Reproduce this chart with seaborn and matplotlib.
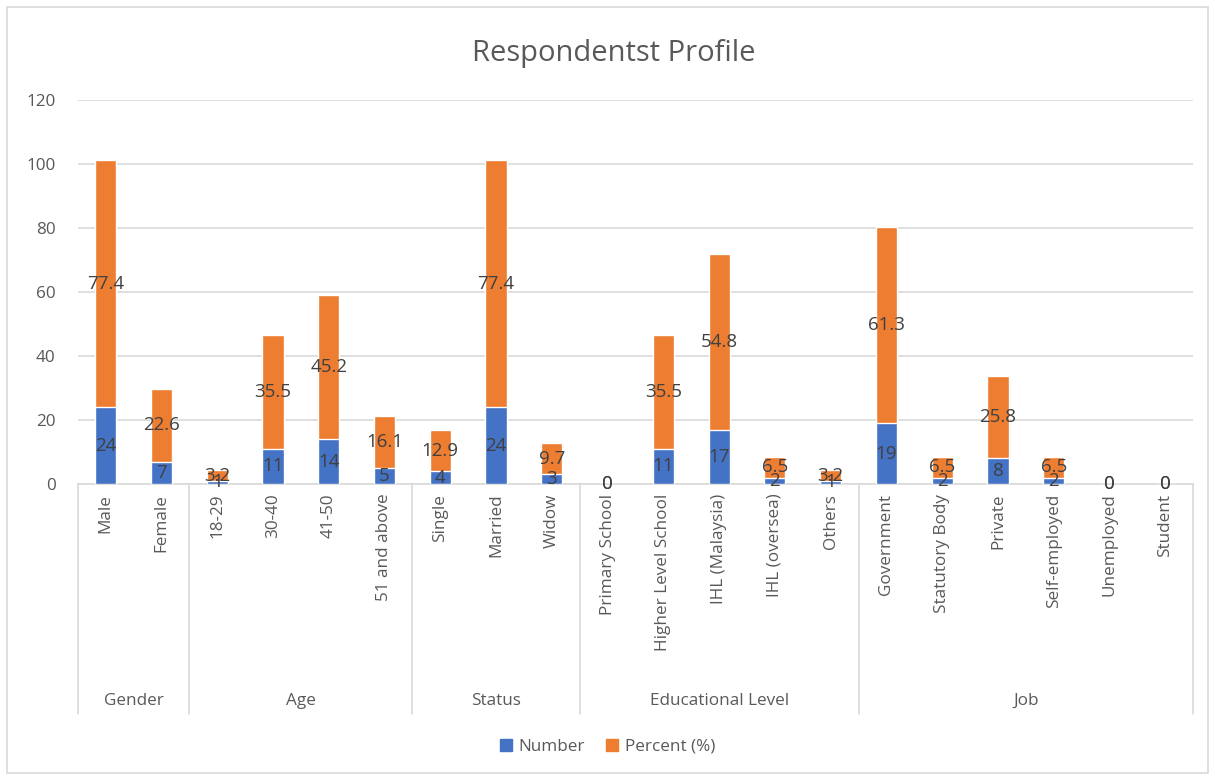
import pandas as pd
import matplotlib.pyplot as plt
import seaborn as sb
from matplotlib.patches import Rectangle, Patch
from matplotlib.transforms import blended_transform_factory

# Chart values
groups = ['Gender', 'Age', 'Status', 'Educational Level', 'Job']
group_sizes = [2, 4, 3, 5, 6]
categories = ['Male', 'Female',
              '18-29', '30-40', '41-50', '51 and above',
              'Single', 'Married', 'Widow',
              'Primary School', 'Higher Level School', 'IHL (Malaysia)', 'IHL (oversea)', 'Others',
              'Government', 'Statutory Body', 'Private', 'Self-employed', 'Unemployed', 'Student']
number = [24, 7, 1, 11, 14, 5, 4, 24, 3, 0, 11, 17, 2, 1, 19, 2, 8, 2, 0, 0]
percent = [77.4, 22.6, 3.2, 35.5, 45.2, 16.1, 12.9, 77.4, 9.7, 0, 35.5, 54.8, 6.5, 3.2,
           61.3, 6.5, 25.8, 6.5, 0, 0]

BLUE = '#4472C4'
ORANGE = '#ED7D31'
TXT = '#595959'

df = pd.DataFrame({'Category': categories, 'Number': number, 'Percent': percent})
df['Total'] = df['Number'] + df['Percent']

sb.set_style('white')
plt.rcParams['font.family'] = ['Open Sans', 'DejaVu Sans']

fig = plt.figure(figsize=(12.15, 7.78), dpi=100)
ax = fig.add_axes([0.064, 0.378, 0.918, 0.493])

# stacked bars: orange total behind, blue number in front
sb.barplot(data=df, x='Category', y='Total', color=ORANGE, width=0.38,
           saturation=1, ax=ax, zorder=2)
sb.barplot(data=df, x='Category', y='Number', color=BLUE, width=0.38,
           saturation=1, ax=ax, zorder=3)

# value labels in the middle of each segment
for i, row in df.iterrows():
    ax.text(i, row['Number'] / 2, f"{row['Number']:g}", ha='center', va='center',
            fontsize=13.5, color='#404040', zorder=5)
    ax.text(i, row['Number'] + row['Percent'] / 2, f"{row['Percent']:g}", ha='center',
            va='center', fontsize=13.5, color='#404040', zorder=5)

ax.set_xlim(-0.5, len(categories) - 0.5)
ax.set_ylim(0, 120)
ax.set_yticks(range(0, 121, 20))
ax.yaxis.grid(True, color='#D9D9D9', linewidth=1.2, zorder=0)
ax.set_axisbelow(True)
for s in ['top', 'right', 'left']:
    ax.spines[s].set_visible(False)
ax.spines['bottom'].set_color('#D9D9D9')
ax.spines['bottom'].set_linewidth(1.2)
ax.tick_params(axis='y', length=0, labelsize=12.3, labelcolor=TXT, pad=16)
ax.tick_params(axis='x', length=0, labelsize=12.3, labelcolor=TXT, pad=7)
ax.set_xticks(range(len(categories)))
ax.set_xticklabels(categories, rotation=90, va='top')
ax.set_xlabel('')
ax.set_ylabel('')

# group separators and group labels below the category labels
trans = blended_transform_factory(ax.transData, ax.transAxes)
start = 0
bounds = [-0.5]
for g, n in zip(groups, group_sizes):
    mid = start + (n - 1) / 2
    ax.text(mid, -0.565, g, transform=trans, ha='center', va='center',
            fontsize=12.3, color=TXT)
    start += n
    bounds.append(start - 0.5)
for b in bounds:
    ax.plot([b, b], [0, -0.6], transform=trans, color='#D9D9D9', linewidth=1.2,
            clip_on=False)

fig.suptitle('Respondentst Profile', x=0.505, y=0.95, fontsize=21, color=TXT)

handles = [Patch(color=BLUE, label='Number'), Patch(color=ORANGE, label='Percent (%)')]
fig.legend(handles=handles, loc='center', bbox_to_anchor=(0.5, 0.04), ncol=2,
           frameon=False, fontsize=12.3, labelcolor=TXT, handlelength=0.7,
           handleheight=0.7, columnspacing=1.2, handletextpad=0.4)

fig.patches.append(Rectangle((0.006, 0.006), 0.988, 0.985, transform=fig.transFigure,
                             fill=False, edgecolor='#D9D9D9', linewidth=1.2))

plt.savefig('out.png', dpi=100)
